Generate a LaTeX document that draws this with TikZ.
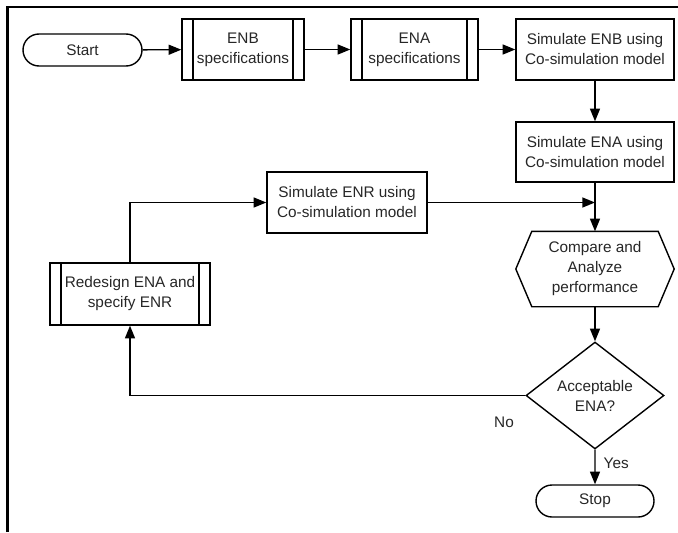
\documentclass[tikz,border=0pt]{standalone}
\usepackage{fontspec}
\setmainfont{Liberation Sans}
\usetikzlibrary{shapes.geometric,shapes.misc,arrows.meta}

\tikzset{
  base/.style={draw, line width=1.05pt, align=center, inner sep=0pt,
    font=\fontsize{11.5}{15}\selectfont, text=black!85},
  terminal/.style={base, rounded rectangle, minimum width=#1*0.75pt, minimum height=32*0.75pt},
  procbox/.style={base, rectangle, minimum height=61*0.75pt},
  predef/.style={procbox, path picture={
      \draw[line width=1.05pt]
        ([xshift=11*0.75pt]path picture bounding box.south west) --
        ([xshift=11*0.75pt]path picture bounding box.north west)
        ([xshift=-11*0.75pt]path picture bounding box.south east) --
        ([xshift=-11*0.75pt]path picture bounding box.north east);}},
  decision/.style={base, diamond, minimum width=138*0.75pt, minimum height=105*0.75pt},
  flow/.style={line width=1.05pt, -{Triangle[length=9.5pt,width=7.5pt]}},
  plain/.style={line width=1.05pt},
  lbl/.style={font=\fontsize{11.5}{15}\selectfont, text=black!85, inner sep=0pt},
}

\begin{document}
\begin{tikzpicture}[x=0.75pt,y=-0.75pt]
  \useasboundingbox (0,0) rectangle (678,532);
  % frame edges
  \draw[line width=1.8pt] (7.5,532) -- (7.5,7) -- (678,7);

  % nodes
  \node[terminal=119] (start) at (82.5,50) {Start};
  \node[predef, minimum width=122*0.75pt] (enb) at (243,49.5) {ENB\\specifications};
  \node[predef, minimum width=127*0.75pt] (ena) at (414.5,49.5) {ENA\\specifications};
  \node[procbox, minimum width=158*0.75pt] (simb) at (595,49.5) {Simulate ENB using\\Co-simulation model};
  \node[procbox, minimum width=158*0.75pt, minimum height=60*0.75pt] (sima) at (595,152) {Simulate ENA using\\Co-simulation model};
  \node[procbox, minimum width=160*0.75pt] (simr) at (347,202.5) {Simulate ENR using\\Co-simulation model};
  \node[predef, minimum width=160*0.75pt, minimum height=62*0.75pt] (redesign) at (130,294) {Redesign ENA and\\specify ENR};

  % hexagon: invisible frame with drawn outline
  \node[base, draw=none, rectangle, minimum width=157*0.75pt, minimum height=74*0.75pt] (cmp) at (595,269)
    {Compare and\\Analyze\\performance};
  \draw[plain] (cmp.west) -- ([xshift=16*0.75pt]cmp.north west) -- ([xshift=-16*0.75pt]cmp.north east)
    -- (cmp.east) -- ([xshift=-16*0.75pt]cmp.south east) -- ([xshift=16*0.75pt]cmp.south west) -- cycle;

  \node[decision] (dec) at (595,395.5) {Acceptable\\ENA?};
  \node[terminal=118] (stop) at (595,501) {Stop};

  % connectors
  \draw[flow] (start) -- (enb);
  \draw[flow] (enb) -- (ena);
  \draw[flow] (ena) -- (simb);
  \draw[flow] (simb) -- (sima);
  \draw[flow] (sima) -- (cmp);
  \coordinate (join) at (sima.south |- simr.east);
  \draw[flow] (simr.east) -- (join);
  \draw[flow] (cmp) -- (dec);
  \draw[flow] (dec) -- node[lbl, right=6pt, pos=0.4] (yes) {Yes} (stop);
  \draw[flow] (dec.west) -- (redesign.south |- dec.west) -- (redesign.south);
  \draw[flow] (redesign.north) |- (simr.west);
  \node[lbl] (no) at (504,422) {No};
\end{tikzpicture}
\end{document}
